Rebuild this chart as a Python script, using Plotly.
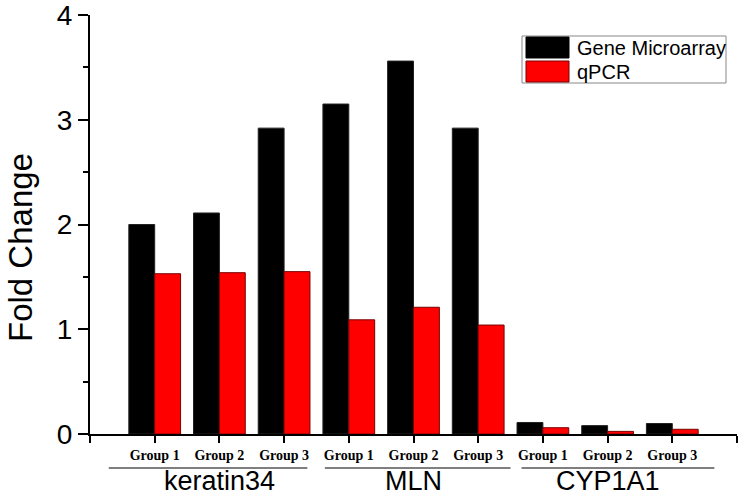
import plotly.graph_objects as go

# ---- data ----
genes = ["keratin34", "MLN", "CYP1A1"]
groups = ["Group 1", "Group 2", "Group 3"]
microarray = [2.00, 2.11, 2.92, 3.15, 3.56, 2.92, 0.11, 0.08, 0.10]
qpcr = [1.53, 1.54, 1.55, 1.09, 1.21, 1.04, 0.06, 0.025, 0.045]
y_ticks = [0, 1, 2, 3, 4]

x_idx = list(range(len(genes) * len(groups)))
x_labels = [g for _ in genes for g in groups]

# ---- layout helpers (pixel -> paper) ----
W, H = 740, 495
ML, MR, MT, MB = 90, 3, 15, 61
PW, PH = W - ML - MR, H - MT - MB


def px(xp):
    return (xp - ML) / PW


def py(yp):
    return (H - MB - yp) / PH


SANS = "Liberation Sans, Arial, sans-serif"
SERIF = "Liberation Serif, Times New Roman, serif"

fig = go.Figure()
fig.add_trace(go.Bar(x=x_idx, y=microarray, name="Gene Microarray",
                     marker=dict(color="black", line=dict(color="#222", width=1)),
                     showlegend=False))
fig.add_trace(go.Bar(x=x_idx, y=qpcr, name="qPCR",
                     marker=dict(color="#ff0000", line=dict(color="#7a0000", width=1)),
                     showlegend=False))

tickvals = [-1] + x_idx + [len(x_idx)]
ticktext = [""] + [f"<b>{t}</b>" for t in x_labels] + [""]

fig.update_layout(
    width=W, height=H,
    margin=dict(l=ML, r=MR, t=MT, b=MB, autoexpand=False),
    paper_bgcolor="white", plot_bgcolor="white",
    barmode="group", bargap=0.2, bargroupgap=0,
    xaxis=dict(range=[-1, len(x_idx)], tickmode="array", tickvals=tickvals,
               ticktext=ticktext, showline=True, linecolor="black", linewidth=2,
               ticks="outside", ticklen=7, tickwidth=2, tickcolor="black",
               showgrid=False, zeroline=False, automargin=False,
               ticklabeloverflow="allow",
               tickfont=dict(family=SERIF, size=14, color="black"),
               fixedrange=True),
    yaxis=dict(range=[0, 4], tickmode="array", tickvals=y_ticks,
               showline=True, linecolor="black", linewidth=2,
               ticks="outside", ticklen=10, tickwidth=2, tickcolor="black",
               minor=dict(dtick=0.5, ticks="outside", ticklen=5, tickwidth=2,
                          tickcolor="black", showgrid=False),
               showgrid=False, zeroline=False, automargin=False,
               ticklabeloverflow="allow",
               tickfont=dict(family=SANS, size=28, color="black"),
               fixedrange=True),
)

# y axis title
fig.add_annotation(text="Fold Change", xref="paper", yref="paper",
                   x=px(20), y=py(248), textangle=-90, showarrow=False,
                   font=dict(family=SANS, size=33, color="black"),
                   xanchor="center", yanchor="middle")

# gene labels and underlines
spans = [(-0.71, 2.36), (2.63, 5.50), (5.67, 8.65)]
for i, gname in enumerate(genes):
    x0, x1 = spans[i]
    fig.add_shape(type="line", xref="x", yref="paper", x0=x0, x1=x1,
                  y0=py(468), y1=py(468), line=dict(color="black", width=1))
    fig.add_annotation(text=gname, xref="x", yref="paper", x=i * 3 + 1,
                       y=py(481), showarrow=False, xanchor="center",
                       yanchor="middle",
                       font=dict(family=SANS, size=27, color="black"))

# custom legend
fig.add_shape(type="rect", xref="paper", yref="paper", x0=px(522), x1=px(726),
              y0=py(83), y1=py(36), line=dict(color="#888", width=1),
              fillcolor="white")
fig.add_shape(type="rect", xref="paper", yref="paper", x0=px(526), x1=px(569),
              y0=py(58), y1=py(37), line=dict(color="black", width=1),
              fillcolor="black")
fig.add_shape(type="rect", xref="paper", yref="paper", x0=px(526), x1=px(569),
              y0=py(82), y1=py(61), line=dict(color="#7a0000", width=1),
              fillcolor="#ff0000")
for label, yc in [("Gene Microarray", 48), ("qPCR", 72)]:
    fig.add_annotation(text=label, xref="paper", yref="paper", x=px(575),
                       y=py(yc), showarrow=False, xanchor="left",
                       yanchor="middle",
                       font=dict(family=SANS, size=20, color="black"))

fig.write_html("out.html", config={"displayModeBar": False},
               post_script="document.body.style.margin='0';")
